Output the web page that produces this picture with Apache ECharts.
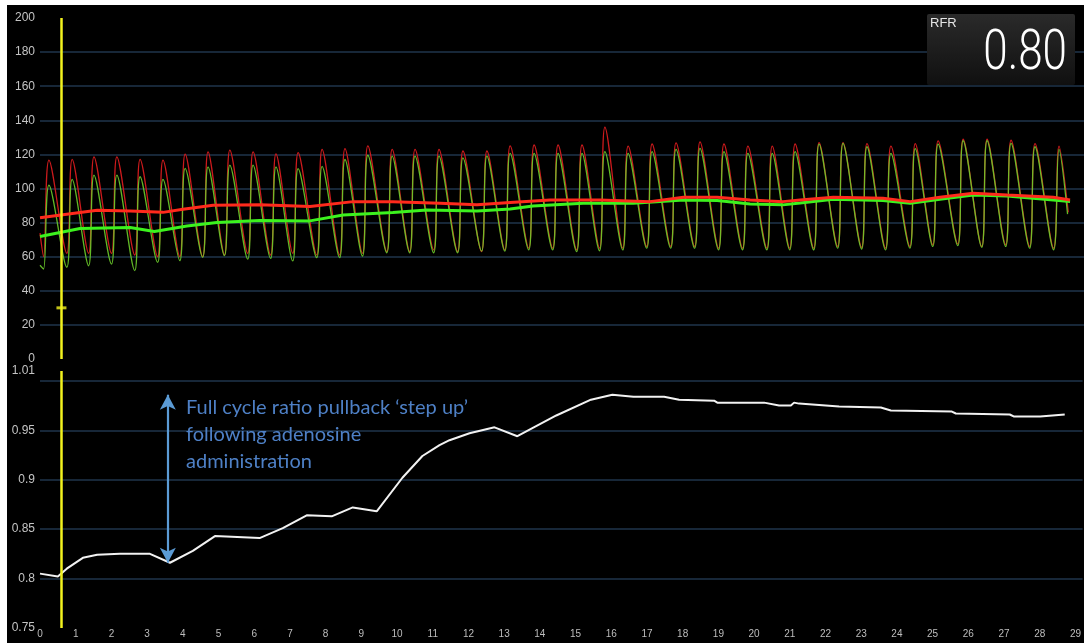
<!DOCTYPE html>
<html>
<head>
<meta charset="utf-8">
<script src="https://cdn.jsdelivr.net/npm/echarts@6/dist/echarts.min.js"></script>
<style>
  html, body { margin: 0; padding: 0; background: #fff; width: 1084px; height: 643px; overflow: hidden; }
  #chart { position: absolute; left: 7px; top: 5px; width: 1077px; height: 638px; background: #000; }
</style>
</head>
<body>
<div id="chart"></div>
<script>
// ---- Pullback position (x, arbitrary time units) of each heartbeat ----
const beatFootX = [0.10, 0.75, 1.36, 2.00, 2.65, 3.29, 3.91, 4.55, 5.16, 5.81, 6.45,
  7.07, 7.74, 8.38, 9.02, 9.70, 10.34, 11.01, 11.68, 12.35, 13.00, 13.67, 14.34,
  15.01, 15.65, 16.30, 16.97, 17.64, 18.31, 18.98, 19.65, 20.33, 20.97, 21.64,
  22.31, 22.98, 23.65, 24.33, 24.97, 25.67, 26.34, 27.01, 27.68, 28.35];
const beatPeakX = [0.25, 0.90, 1.51, 2.15, 2.80, 3.44, 4.06, 4.70, 5.31, 5.96, 6.60,
  7.22, 7.89, 8.53, 9.17, 9.85, 10.49, 11.16, 11.83, 12.50, 13.15, 13.82, 14.49,
  15.16, 15.80, 16.45, 17.12, 17.79, 18.46, 19.13, 19.80, 20.48, 21.12, 21.79,
  22.46, 23.13, 23.80, 24.48, 25.12, 25.82, 26.49, 27.16, 27.83, 28.50];

// ---- Aortic pressure Pa (mmHg): systolic peaks and diastolic feet ----
const aorticPeak = [116.7, 117.1, 118.6, 118.6, 117.1, 116.7, 120.2, 121.5, 122.5, 121.5, 120.3,
  121, 123, 123.4, 125, 123, 123, 123, 122, 122, 125, 125.5, 125.5,
  125.5, 136, 124.9, 126.1, 126.8, 127.4, 126.1, 124.9, 124.9, 126.1, 126.9,
  126.9, 126.3, 124.9, 126.3, 127.9, 128.9, 128.9, 128.3, 126.3, 124.9];
const aorticFoot = [60, 62, 62, 62, 61, 60, 60, 60, 61, 62, 61,
  62, 61, 61, 62, 63, 63, 64, 63, 63, 64, 65, 65,
  64, 65, 65, 66, 66, 66, 65, 65, 65, 65, 65,
  66, 65.5, 65, 66, 67, 67.5, 66, 67, 66, 65];
const aorticEdges = [[0, 73.8], [28.76, 86]];

// ---- Distal pressure Pd (mmHg) ----
const distalPeak = [102, 105.3, 107.9, 107.9, 106.9, 105.3, 111.8, 112.7, 113.7, 113.7, 112.7,
  111.6, 113, 117, 119.5, 119, 119, 119, 118, 119, 120.6, 120.6, 120.6,
  120.6, 121.6, 120.6, 121.6, 122.9, 123.5, 121.6, 120.6, 120.6, 121.6, 126,
  126.5, 124.5, 120.6, 123.4, 126, 128, 128, 126.5, 124.5, 122.9];
const distalFoot = [52.8, 53.8, 54.7, 55.7, 51.8, 56.7, 57.7, 59.6, 60.6, 58.6, 59,
  57.5, 59.4, 59.4, 60.4, 62.3, 62.3, 62.3, 62.3, 63.3, 63.3, 64, 64,
  63, 63.5, 64, 65, 65, 65, 64, 64, 64, 64, 64,
  65, 64.5, 64, 65, 66, 66.5, 65.5, 66, 65, 64];
const distalEdges = [[0, 55], [28.74, 85]];

// ---- Mean pressures ----
const aorticMeanX = [0, 1.6, 2.52, 3.44, 4.0, 4.84, 6.15, 7.55, 8.76, 9.87, 11.19, 12.22,
  13.15, 14.27, 15.66, 17.06, 18.0, 18.94, 19.86, 20.78, 21.26, 22.19, 23.58,
  24.34, 25.17, 26.1, 27.05, 28.34, 28.81];
const aorticMean = [82.9, 87.2, 86.8, 86, 87.8, 90.2, 90.5, 89.4, 92.3, 92.3, 91.3, 90.4,
  91.8, 93.3, 93.3, 92.3, 94.9, 94.9, 93.3, 92.3, 93.3, 94.9, 94.3,
  92.3, 94.9, 97.2, 96.2, 94.9, 93.3];
const distalMeanX = [0, 1.12, 2.52, 3.2, 4.11, 4.95, 6.15, 7.55, 8.48, 9.87, 10.82, 12.22,
  13.15, 13.79, 15.19, 16.59, 18.0, 18.94, 19.86, 20.78, 21.26, 22.19, 23.58,
  24.34, 25.17, 26.1, 27.05, 28.34, 28.81];
const distalMean = [71.8, 76.5, 77.1, 74.8, 78, 80, 81.2, 81, 84.5, 85.9, 87.4, 86.8,
  88, 89.8, 91.3, 91.3, 93.3, 92.9, 90.9, 90.4, 91.5, 93.7, 92.9,
  91.3, 93.7, 96.2, 95.6, 93.3, 92.3];

// ---- Pd/Pa ratio along the pullback ----
const ratioX = [0.00, 0.50, 0.75, 1.20, 1.60, 2.24, 3.08, 3.64, 4.28, 4.90, 6.15, 6.80,
  7.47, 8.17, 8.76, 9.43, 10.15, 10.71, 11.19, 11.47, 12.03, 12.73, 13.37, 14.46,
  15.43, 16.03, 16.62, 17.48, 17.90, 18.88, 18.97, 20.28, 20.70, 21.03, 21.12,
  21.26, 22.38, 23.55, 23.83, 25.54, 25.65, 27.16, 27.27, 28.01, 28.70];
const ratio = [0.805, 0.802, 0.810, 0.821, 0.824, 0.825, 0.825, 0.816, 0.828, 0.843, 0.841, 0.851,
  0.864, 0.863, 0.872, 0.868, 0.902, 0.924, 0.935, 0.940, 0.947, 0.953, 0.944, 0.965,
  0.981, 0.986, 0.984, 0.984, 0.981, 0.980, 0.978, 0.978, 0.975, 0.975, 0.978,
  0.977, 0.974, 0.973, 0.970, 0.969, 0.967, 0.966, 0.964, 0.964, 0.966];

// ---- Cursor, annotation and readout ----
const cursorX = 0.6;
const cursorMark = [0.6, 30];
const arrowX = 3.58;
const rfrValue = '0.80';
const noteLines = ['Full cycle ratio pullback \u2018step up\u2019', 'following adenosine', 'administration'];

const pressureTicks = { min: 0, max: 200, step: 20 };
const ratioTicks = { min: 0.75, max: 1.01, step: 0.05 };
const timeTicks = { min: 0, max: 29.2, step: 1 };

function pulse(feet, peaks, edges) {
  const pts = [edges[0]];
  for (let i = 0; i < beatPeakX.length; i++) {
    pts.push([beatFootX[i], feet[i]]);
    pts.push([beatPeakX[i], peaks[i]]);
  }
  pts.push(edges[1]);
  return pts;
}
const zip = (xs, ys) => xs.map((x, i) => [x, ys[i]]);

// arrow spans the dip before the step-up to the plateau maximum
const stepLo = Math.min(...ratio.slice(5, 10));
const stepHi = Math.max(...ratio);

const gridColor = '#1f354b';
const labelStyle = { color: '#c4c4c4', fontSize: 12, fontFamily: 'Liberation Sans, Arial, sans-serif' };

const chart = echarts.init(document.getElementById('chart'), null, { renderer: 'canvas' });
chart.setOption({
  backgroundColor: '#000',
  animation: false,
  grid: [
    { left: 33, right: 0, top: 13, height: 341 },
    { left: 33, right: 0, top: 366, height: 257 }
  ],
  xAxis: [
    { type: 'value', gridIndex: 0, min: timeTicks.min, max: timeTicks.max, interval: timeTicks.step,
      axisLine: { show: false }, axisTick: { show: false }, axisLabel: { show: false }, splitLine: { show: false } },
    { type: 'value', gridIndex: 1, min: timeTicks.min, max: timeTicks.max, interval: timeTicks.step,
      axisLine: { show: false }, axisTick: { show: false }, splitLine: { show: false },
      axisLabel: { color: '#bdbdbd', fontSize: 10, margin: 1, showMaxLabel: false,
        fontFamily: 'Liberation Sans, Arial, sans-serif',
        formatter: v => (Math.abs(v - Math.round(v)) < 1e-6 ? String(Math.round(v)) : '') } }
  ],
  yAxis: [
    { type: 'value', gridIndex: 0, min: pressureTicks.min, max: pressureTicks.max, interval: pressureTicks.step,
      axisLine: { show: false }, axisTick: { show: false },
      axisLabel: Object.assign({ margin: 5 }, labelStyle),
      splitLine: { show: true, showMinLine: false, showMaxLine: false, lineStyle: { color: gridColor, width: 1.5 } } },
    { type: 'value', gridIndex: 1, min: ratioTicks.min, max: ratioTicks.max, interval: ratioTicks.step,
      axisLine: { show: false }, axisTick: { show: false },
      axisLabel: Object.assign({ margin: 5, showMaxLabel: true,
        formatter: v => (Math.abs(v - 1) < 1e-9 ? '' : String(+v.toFixed(2))) }, labelStyle),
      splitLine: { show: true, showMinLine: false, showMaxLine: false, lineStyle: { color: gridColor, width: 1.5 } } }
  ],
  series: [
    { name: 'Pa', type: 'line', xAxisIndex: 0, yAxisIndex: 0, data: pulse(aorticFoot, aorticPeak, aorticEdges),
      showSymbol: false, smooth: 0.35, lineStyle: { color: '#cc1a1c', width: 1.3 }, z: 2 },
    { name: 'Pd', type: 'line', xAxisIndex: 0, yAxisIndex: 0, data: pulse(distalFoot, distalPeak, distalEdges),
      showSymbol: false, smooth: 0.35, lineStyle: { color: '#6ccc2a', width: 1.3, opacity: 0.9 }, z: 3 },
    { name: 'Pd mean', type: 'line', xAxisIndex: 0, yAxisIndex: 0, data: zip(distalMeanX, distalMean),
      showSymbol: false, lineStyle: { color: '#3cf21e', width: 3 }, z: 4 },
    { name: 'Pa mean', type: 'line', xAxisIndex: 0, yAxisIndex: 0, data: zip(aorticMeanX, aorticMean),
      showSymbol: false, lineStyle: { color: '#ff2a1c', width: 3 }, z: 5,
      markLine: { silent: true, symbol: 'none', label: { show: false }, z: 10,
        lineStyle: { color: '#f2f21e', width: 2.5, type: 'solid' },
        data: [{ xAxis: cursorX }] } },
    { name: 'cursor', type: 'scatter', xAxisIndex: 0, yAxisIndex: 0, data: [cursorMark],
      symbol: 'rect', symbolSize: [10, 3], itemStyle: { color: '#f2f21e' }, z: 11, silent: true },
    { name: 'Pd/Pa', type: 'line', xAxisIndex: 1, yAxisIndex: 1, data: zip(ratioX, ratio),
      showSymbol: false, lineStyle: { color: '#f2f2f2', width: 2 }, z: 5,
      markLine: { silent: true, label: { show: false }, z: 10, symbol: 'none',
        data: [
          { xAxis: cursorX, symbol: 'none', lineStyle: { color: '#f2f21e', width: 2.5, type: 'solid' } },
          [
            { coord: [arrowX, stepLo], symbol: 'arrow', symbolSize: [12, 15],
              lineStyle: { color: '#5b9bd5', width: 2.2, type: 'solid' } },
            { coord: [arrowX, stepHi], symbol: 'arrow', symbolSize: [12, 15],
              lineStyle: { color: '#5b9bd5', width: 2.2, type: 'solid' } }
          ]
        ] } }
  ],
  graphic: [
    { type: 'text', left: 179, top: 389, z: 20, silent: true,
      style: { text: noteLines.join('\n'), fill: '#4e80c6', font: '20px Lato, "Open Sans", sans-serif', lineHeight: 27 } },
    { type: 'rect', left: 920, top: 9, z: 20, silent: true,
      shape: { x: 0, y: 0, width: 148, height: 71, r: 2 },
      style: { fill: new echarts.graphic.LinearGradient(0, 0, 0, 1, [
        { offset: 0, color: '#2a2a2a' }, { offset: 1, color: '#101010' }]) } },
    { type: 'text', left: 923, top: 12, z: 21, silent: true,
      style: { text: 'RFR', fill: '#e6e6e6', font: '13px "Liberation Sans", Arial, sans-serif' } },
    { type: 'text', x: 1060, y: 50, scaleX: 0.8, z: 21, silent: true,
      style: { text: rfrValue, fill: '#ffffff', font: '300 55px Roboto, "Open Sans", sans-serif',
        align: 'right', verticalAlign: 'middle' } }
  ]
});
</script>
</body>
</html>
